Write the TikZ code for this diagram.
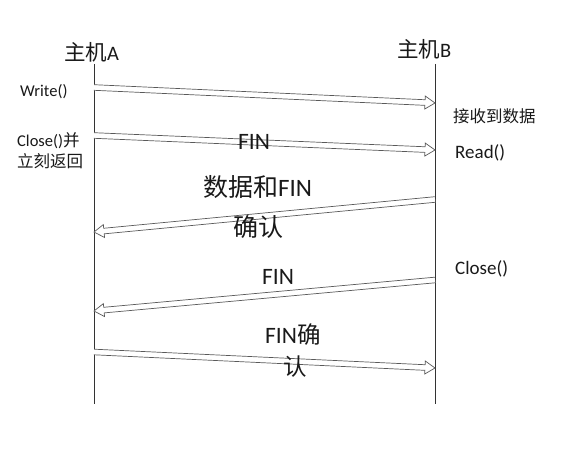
\documentclass[tikz,border=0pt]{standalone}
\usepackage{fontspec}
\setmainfont{Carlito}
\newfontfamily\cjk{Noto Sans CJK SC}
\usetikzlibrary{calc}

% hollow block arrow from #1 to #2
\newcommand\hollowarrow[2]{%
  \coordinate (hb) at ($(#2)!10pt!(#1)$);
  \draw[blockarrow]
    ($(#1)!2.8pt!90:(#2)$) -- ($(hb)!2.8pt!90:(#2)$) -- ($(hb)!6.5pt!90:(#2)$)
    -- (#2)
    -- ($(hb)!6.5pt!-90:(#2)$) -- ($(hb)!2.8pt!-90:(#2)$) -- ($(#1)!2.8pt!-90:(#2)$);
}

\begin{document}
\begin{tikzpicture}[x=1pt,y=-1pt,
  lifeline/.style={draw=black!80, line width=0.8pt},
  blockarrow/.style={draw=black!65, line width=0.7pt, fill=white, line join=miter},
  lbl/.style={anchor=base west, inner sep=0pt, text=black!90},
  small/.style={lbl, font=\fontsize{16.5}{18}\selectfont},
  mid/.style={lbl, font=\fontsize{19}{21}\selectfont},
  title/.style={lbl, font=\fontsize{20.5}{23}\selectfont},
  big/.style={lbl, font=\fontsize{23.5}{26}\selectfont},
  bigger/.style={lbl, font=\fontsize{25}{28}\selectfont}]
\useasboundingbox (0,0) rectangle (573,454);

% hosts
\node[title] (hostA) at (64,61) {{\cjk\fontsize{21.5}{23}\selectfont 主机}A};
\node[title] (hostB) at (397,58) {{\cjk\fontsize{21.5}{23}\selectfont 主机}B};

% lifelines
\coordinate (Atop) at (94,64);  \coordinate (Abot) at (94,404);
\coordinate (Btop) at (435,64); \coordinate (Bbot) at (435,404);
\draw[lifeline] (Atop) -- (Abot);
\draw[lifeline] (Btop) -- (Bbot);

% message end points
\coordinate (a1) at (94,87.5);  \coordinate (b1) at (435,103);
\coordinate (a2) at (94,135.5); \coordinate (b2) at (435,150);
\coordinate (b3) at (435,199.5); \coordinate (a3) at (94,232);
\coordinate (b4) at (435,280);  \coordinate (a4) at (94,311);
\coordinate (a5) at (94,352);   \coordinate (b5) at (435,368);

\hollowarrow{a1}{b1}
\hollowarrow{a2}{b2}
\hollowarrow{b3}{a3}
\hollowarrow{b4}{a4}
\hollowarrow{a5}{b5}

% host A side
\node[small] (write) at (20,97) {Write()};
\node[small] (closeA) at (17,147) {Close(){\cjk 并}};
\node[small] (ret) at (17,168) {\cjk 立刻返回};

% host B side
\node[small] (recv) at (453,123) {\cjk 接收到数据};
\node[mid] (read) at (455,159) {Read()};
\node[mid] (closeB) at (455,275) {Close()};

% message labels
\node[big] (fin1) at (238,150) {FIN};
\node[bigger] (dfin) at (203,197) {{\cjk 数据和}FIN};
\node[bigger] (ack1) at (233,237) {\cjk 确认};
\node[big] (fin2) at (262,285) {FIN};
\node[big] (finack) at (265,343) {FIN{\cjk 确}};
\node[big] (ack2) at (283,375) {\cjk 认};
\end{tikzpicture}
\end{document}
